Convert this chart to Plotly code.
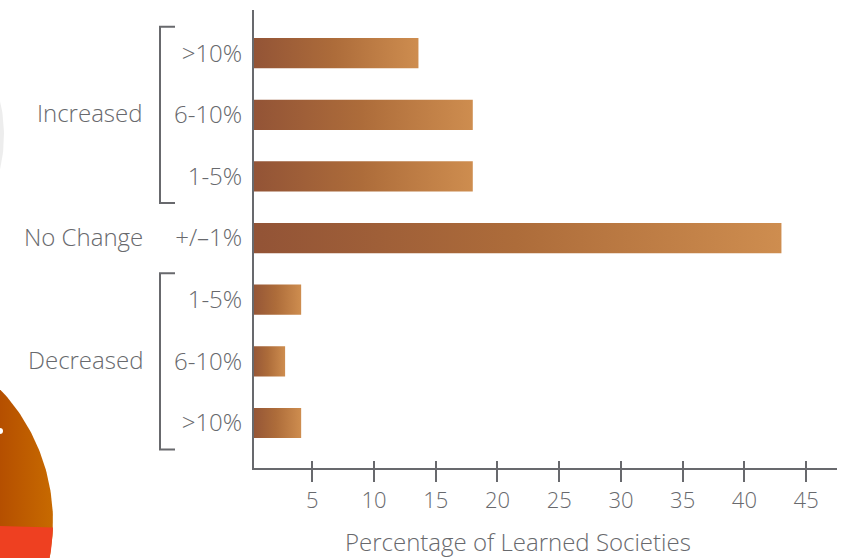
import numpy as np
import plotly.graph_objects as go

# ---- data ----
tick_labels = [">10%", "6-10%", "1-5%", "+/\u20131%", "1-5%", "6-10%", ">10%"]
values = [13.6, 18.0, 18.0, 43.0, 4.1, 2.8, 4.1]
groups = ["Increased", "No Change", "Decreased"]
group_members = [[0, 1, 2], [3], [4, 5, 6]]
x_ticks = [5, 10, 15, 20, 25, 30, 35, 40, 45]
x_title = "Percentage of Learned Societies"

W, H = 847, 558
FONT = "Open Sans"
GRAY = "#68696d"
BAR_HALF = 0.245
bar_scale = [[0, "#925336"], [0.5, "#AD6C3A"], [1, "#CE8D4F"]]

# plot area in pixels
PL, PR, PT, PB = 254, 837, 10, 468

def fnt(size):
    return dict(family=FONT, size=size, color=GRAY, weight=300)

fig = go.Figure()

# ---- decorative elements (neighbouring graphics, page pixel coords) ----
cx, cy, R = -140, 522, 193
ang = np.linspace(-np.pi / 2, np.pi / 2, 200)
px = cx + R * np.cos(ang)
py = cy + R * np.sin(ang)
fig.add_trace(go.Scatter(x=np.r_[px, px[0]], y=np.r_[py, py[0]], mode="lines", fill="toself",
                         line=dict(width=0), xaxis="x2", yaxis="y2", hoverinfo="skip",
                         fillgradient=dict(type="horizontal", start=0, stop=55,
                                           colorscale=[[0, "#B54F00"], [1, "#C86B00"]]),
                         showlegend=False))
a0 = np.arctan2(526 - cy, 0 - cx)
ang2 = np.linspace(a0, np.pi / 2, 100)
sx = np.r_[cx, cx + R * np.cos(ang2), cx]
sy = np.r_[cy + 0, cy + R * np.sin(ang2), cy]
fig.add_trace(go.Scatter(x=sx, y=sy, mode="lines", fill="toself", fillcolor="#EE4021",
                         line=dict(width=0), xaxis="x2", yaxis="y2", hoverinfo="skip",
                         showlegend=False))
fig.add_trace(go.Scatter(x=[0], y=[431], mode="markers", marker=dict(color="white", size=6),
                         xaxis="x2", yaxis="y2", hoverinfo="skip", showlegend=False))
ang3 = np.linspace(-0.55, 0.55, 60)
fig.add_trace(go.Scatter(x=-150 + 152 * np.cos(ang3), y=135 + 152 * np.sin(ang3), mode="lines",
                         line=dict(color="rgba(0,0,0,0.07)", width=4),
                         xaxis="x2", yaxis="y2", hoverinfo="skip", showlegend=False))

# ---- bars with horizontal gradient ----
for i, v in enumerate(values):
    fig.add_trace(go.Scatter(
        x=[0, v, v, 0, 0],
        y=[i - BAR_HALF, i - BAR_HALF, i + BAR_HALF, i + BAR_HALF, i - BAR_HALF],
        mode="lines", fill="toself", line=dict(width=0),
        fillgradient=dict(type="horizontal", colorscale=bar_scale),
        hoverinfo="skip", showlegend=False))

# dummy trace for the overlaid inside-tick axis
fig.add_trace(go.Scatter(x=values, y=list(range(len(values))), mode="markers",
                         marker=dict(opacity=0), xaxis="x3", hoverinfo="skip", showlegend=False))

xr = [0.28, 47.5]
dom_x = [PL / W, PR / W]
dom_y = [1 - PB / H, 1 - PT / H]

fig.update_layout(
    width=W, height=H,
    margin=dict(l=0, r=0, t=0, b=0),
    paper_bgcolor="white", plot_bgcolor="rgba(0,0,0,0)",
    font=fnt(23),
    xaxis=dict(domain=dom_x, range=xr, tickvals=x_ticks, showgrid=False, zeroline=False,
               showline=True, linecolor=GRAY, linewidth=2, ticks="outside", ticklen=12,
               tickwidth=2, tickcolor=GRAY, ticklabelstandoff=0,
               tickfont=fnt(22), automargin=False, fixedrange=True),
    xaxis3=dict(overlaying="x", anchor="y", range=xr, tickvals=x_ticks, showgrid=False,
                zeroline=False, showline=False, ticks="inside", ticklen=7, tickwidth=2,
                tickcolor=GRAY, showticklabels=False, automargin=False, fixedrange=True),
    yaxis=dict(domain=dom_y, range=[6.73, -0.7], tickvals=list(range(len(tick_labels))),
               ticktext=tick_labels, showgrid=False, zeroline=False, showline=True,
               linecolor=GRAY, linewidth=2, ticks="", ticklabelstandoff=5,
               tickfont=fnt(24), automargin=False, fixedrange=True),
    xaxis2=dict(domain=[0, 1], range=[0, W], visible=False, anchor="y2", fixedrange=True),
    yaxis2=dict(domain=[0, 1], range=[H, 0], visible=False, anchor="x2", fixedrange=True),
)

# group labels and brackets
for g, members in zip(groups, group_members):
    c = float(np.mean(members))
    fig.add_annotation(text=g, xref="paper", yref="y", x=145 / W, y=c - 0.03, xanchor="right",
                       yanchor="middle", showarrow=False, font=fnt(24))
    if len(members) > 1:
        span = (len(members) - 1) / 2 + 0.43
        fig.add_shape(type="path", xref="paper", yref="y",
                      path=f"M {175/W},{c-span} L {160/W},{c-span} L {160/W},{c+span} L {175/W},{c+span}",
                      line=dict(color=GRAY, width=2))

fig.add_annotation(text=x_title, xref="paper", yref="paper", x=518 / W, y=1 - 541 / H,
                   xanchor="center", yanchor="middle", showarrow=False, font=fnt(24))

fig.write_html("out.html", config={"displayModeBar": False},
               post_script="document.body.style.margin='0';document.body.style.overflow='hidden';")
